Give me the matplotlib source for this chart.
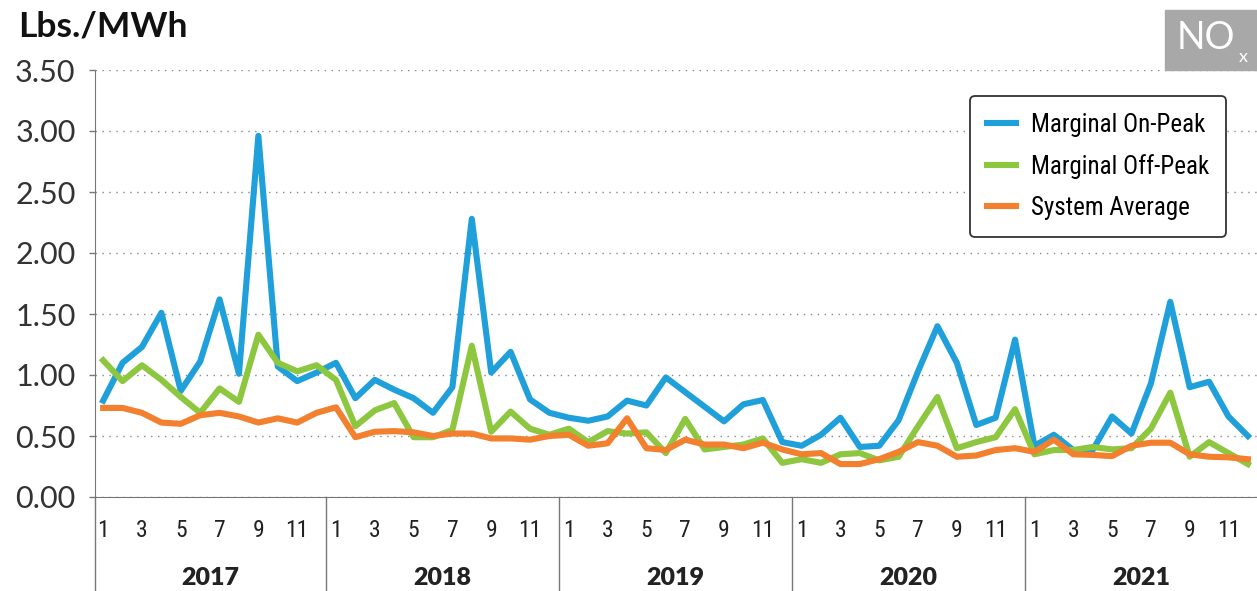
import matplotlib
matplotlib.use("Agg")
import matplotlib.pyplot as plt
from matplotlib.patches import Rectangle
import matplotlib.font_manager as fm

years = ["2017", "2018", "2019", "2020", "2021"]
month_labels = ["1", "3", "5", "7", "9", "11"]

on_peak = [0.79, 1.10, 1.23, 1.51, 0.87, 1.11, 1.62, 1.01, 2.96, 1.07, 0.95, 1.02,
           1.10, 0.81, 0.96, 0.88, 0.81, 0.69, 0.90, 2.28, 1.02, 1.19, 0.80, 0.69,
           0.65, 0.625, 0.66, 0.79, 0.75, 0.98, 0.86, 0.74, 0.62, 0.76, 0.795, 0.45,
           0.42, 0.51, 0.65, 0.41, 0.42, 0.63, 1.03, 1.40, 1.10, 0.59, 0.65, 1.29,
           0.42, 0.51, 0.385, 0.385, 0.66, 0.52, 0.93, 1.60, 0.90, 0.945, 0.66, 0.50]
off_peak = [1.12, 0.95, 1.08, 0.96, 0.82, 0.69, 0.89, 0.78, 1.33, 1.10, 1.03, 1.08,
            0.96, 0.58, 0.71, 0.77, 0.49, 0.49, 0.55, 1.24, 0.535, 0.70, 0.56, 0.51,
            0.56, 0.45, 0.54, 0.52, 0.53, 0.36, 0.64, 0.39, 0.41, 0.43, 0.48, 0.28,
            0.31, 0.28, 0.35, 0.36, 0.30, 0.33, 0.58, 0.82, 0.40, 0.45, 0.49, 0.72,
            0.35, 0.385, 0.385, 0.41, 0.39, 0.40, 0.56, 0.855, 0.33, 0.45, 0.36, 0.27]
system_avg = [0.73, 0.73, 0.69, 0.61, 0.60, 0.67, 0.69, 0.66, 0.61, 0.645, 0.61, 0.69,
              0.735, 0.49, 0.535, 0.54, 0.53, 0.50, 0.52, 0.52, 0.48, 0.48, 0.47, 0.50,
              0.51, 0.42, 0.44, 0.645, 0.40, 0.385, 0.47, 0.43, 0.43, 0.40, 0.445, 0.39,
              0.35, 0.36, 0.27, 0.27, 0.31, 0.37, 0.45, 0.42, 0.33, 0.34, 0.385, 0.40,
              0.37, 0.47, 0.35, 0.345, 0.335, 0.42, 0.445, 0.445, 0.35, 0.33, 0.325, 0.31]

# pick a condensed face for the legend / month labels if one is installed
fonts = fm.fontManager.ttflist
names = {f.name for f in fonts}
narrow = {"family": "DejaVu Sans", "stretch": "normal", "size": 14}
if "Liberation Sans Narrow" in names:
    narrow = {"family": "Liberation Sans Narrow", "stretch": "normal", "size": 18.5}
elif "Roboto Condensed" in names:
    narrow = {"family": "Roboto Condensed", "stretch": "normal", "size": 18}
elif any(f.name == "DejaVu Sans" and f.stretch == "condensed" for f in fonts):
    narrow = {"family": "DejaVu Sans", "stretch": "condensed", "size": 16}
elif any(f.name == "Open Sans" and f.stretch == "condensed" for f in fonts):
    narrow = {"family": "Open Sans", "stretch": "condensed", "size": 16.5}
base = "Lato" if "Lato" in names else "DejaVu Sans"

fig = plt.figure(figsize=(12.57, 5.91), dpi=100)
ax = fig.add_axes([95 / 1257, 94 / 591, 1162 / 1257, 427 / 591])

x = list(range(len(on_peak)))
ax.plot(x, on_peak, color="#20a0da", lw=4.4, label="Marginal On-Peak", zorder=3)
ax.plot(x, off_peak, color="#8dc63f", lw=4.4, label="Marginal Off-Peak", zorder=3)
ax.plot(x, system_avg, color="#f2802f", lw=4.4, label="System Average", zorder=4)

ax.set_xlim(-0.42, 59.47)
ax.set_ylim(0, 3.5)
ax.set_yticks([i * 0.5 for i in range(8)])
ax.set_yticklabels(["%.2f" % (i * 0.5) for i in range(8)], fontfamily=base, fontsize=22, color="#333333")
ax.tick_params(axis="y", length=4, width=1, color="#777777", pad=10)
ax.set_xticks([])
ax.yaxis.grid(True, linestyle=(0, (1, 4)), color="#888888", lw=1)
ax.set_axisbelow(True)
for s in ["top", "right"]:
    ax.spines[s].set_visible(False)
ax.spines["left"].set_color("#777777")
ax.spines["bottom"].set_color("#777777")

# month and year labels below the axis
tr = ax.get_xaxis_transform()
for yi, yr in enumerate(years):
    for mi, lab in enumerate(month_labels):
        ax.text(yi * 12 + mi * 2, -0.078, lab, transform=tr, ha="center", va="center",
                fontfamily=narrow["family"], fontstretch=narrow["stretch"],
                fontsize=17, color="#222222")
    ax.text(yi * 12 + 5.5, -0.19, yr, transform=tr, ha="center", va="center",
            fontfamily=base, fontweight="heavy", fontsize=18, color="#222222")
    ax.plot([yi * 12 - 0.5 if yi else -0.42] * 2, [0, -0.23], transform=tr, color="#777777",
            lw=1, clip_on=False)

fig.text(18 / 1257, 1 - 26 / 591, "Lbs./MWh", fontfamily=base, fontweight="bold",
         fontsize=25.5, va="center", ha="left", color="#111111")

# NOx badge
fig.patches.append(Rectangle((1165 / 1257, 1 - 70 / 591), 92 / 1257, 60 / 591,
                             transform=fig.transFigure, color="#a8a8a8", zorder=0))
fig.text(1206 / 1257, 1 - 38 / 591, "NO", color="white", fontfamily=base, fontsize=27,
         ha="center", va="center")
fig.text(1243 / 1257, 1 - 57 / 591, "x", color="white", fontfamily=base, fontsize=13,
         ha="center", va="center")

leg = ax.legend(loc="upper left", bbox_to_anchor=(970 / 1257, 1 - 96 / 591),
                bbox_transform=fig.transFigure,
                prop=fm.FontProperties(family=narrow["family"], stretch=narrow["stretch"],
                                       size=narrow["size"]),
                frameon=True, fancybox=True, edgecolor="#333333", handlelength=1.15,
                handletextpad=0.6, labelspacing=0.68, borderpad=0.68, borderaxespad=0)
leg.get_frame().set_linewidth(1.3)
leg.get_frame().set_alpha(1)

fig.savefig("out.png", dpi=100)
